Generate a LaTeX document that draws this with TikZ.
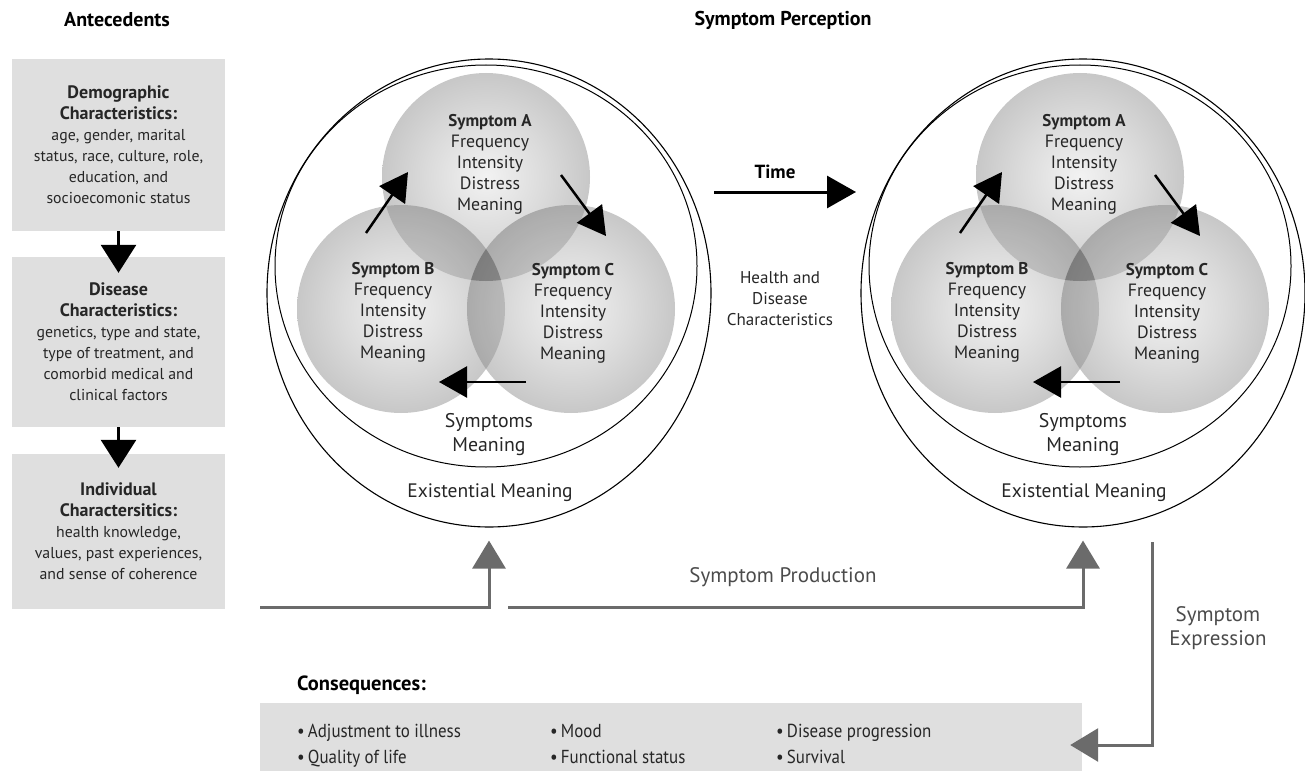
\documentclass[tikz,border=0pt]{standalone}
\usepackage{fontspec}
\setmainfont{PT Sans}
\newfontfamily\condfont[FakeStretch=0.9]{PT Sans}
\usetikzlibrary{arrows.meta,shapes.geometric}
\definecolor{boxgray}{gray}{0.875}
\definecolor{arrgray}{gray}{0.42}
\definecolor{txtgray}{gray}{0.15}
\definecolor{sphc}{gray}{0.95}
\definecolor{sphm}{gray}{0.86}
\definecolor{sphe}{gray}{0.69}
\definecolor{sphr}{gray}{0.61}
\pgfdeclareradialshading{sphereshade}{\pgfpoint{0bp}{0bp}}{color(0bp)=(sphc); color(14bp)=(sphm); color(38bp)=(sphe); color(50bp)=(sphr)}
\newcommand\fs[2]{\fontsize{#1}{#2}\selectfont}
\newcommand\bl[1]{{\bfseries\fontsize{18}{21}\selectfont #1}}
\newcommand\bs[1]{{\bfseries\fontsize{17}{21}\selectfont #1}}
\tikzset{
  antebox/.style={fill=boxgray, minimum width=213pt, inner sep=0pt, align=center, text=txtgray, font=\fs{15.8}{21}},
  boxarrow/.style={line width=3pt, -{Triangle[length=28pt,width=35pt]}},
  blackarrow/.style={line width=2.5pt, -{Triangle[length=28pt,width=31pt]}},
  grayarrow/.style={draw=arrgray, line width=3pt, -{Triangle[length=28pt,width=33pt]}, arrgray},
  sphere/.style={circle, minimum size=208pt, inner sep=0pt, shade, shading=sphereshade},
  lens/.style={black, opacity=0.14},
  sphtext/.style={align=center, text=txtgray, font=\fs{17.8}{21}},
  title/.style={font=\bfseries\fs{20}{22}},
  lbl/.style={align=center, text=txtgray, font=\fs{17}{21}},
  item/.style={anchor=base west, inner sep=0pt, text=txtgray, font=\condfont\fs{18.8}{20}}
}
\newcommand\SymGroup{%
  \node[draw, ellipse, line width=1.1pt, minimum width=444pt, minimum height=468pt, inner sep=0pt] (outer) at (489,293) {};
  \node[draw, ellipse, line width=1pt, minimum width=422pt, minimum height=402pt, inner sep=0pt] (inner) at (486,266) {};
  \node[sphere] (A) at (486,177) {};
  \node[sphere] (B) at (401,309) {};
  \node[sphere] (C) at (571,309) {};
  \begin{scope}
    \clip (486,177) circle[radius=104];
    \fill[lens] (401,309) circle[radius=104];
    \fill[lens] (571,309) circle[radius=104];
  \end{scope}
  \begin{scope}
    \clip (401,309) circle[radius=104];
    \fill[lens] (571,309) circle[radius=104];
  \end{scope}
  \node[sphtext] (At) at (490,164) {\bs{Symptom A}\\Frequency\\Intensity\\Distress\\Meaning};
  \node[sphtext] (Bt) at (393,312) {\bs{Symptom B}\\Frequency\\Intensity\\Distress\\Meaning};
  \node[sphtext] (Ct) at (573,313) {\bs{Symptom C}\\Frequency\\Intensity\\Distress\\Meaning};
  \coordinate (ba1) at (366,233); \coordinate (ba2) at (408,172);
  \coordinate (ac1) at (561,175); \coordinate (ac2) at (606,236);
  \coordinate (cb1) at (526,382); \coordinate (cb2) at (439,382);
  \draw[blackarrow] (ba1) -- (ba2);
  \draw[blackarrow] (ac1) -- (ac2);
  \draw[blackarrow] (cb1) -- (cb2);
  \node[lbl, font=\fs{19.8}{24}] (sm) at (489,435) {Symptoms\\Meaning};
  \node[lbl, font=\fs{19.5}{24}] (em) at (490,493) {Existential Meaning};
}
\begin{document}
\begin{tikzpicture}[x=1pt,y=-1pt]
\useasboundingbox (0,0) rectangle (1305,773);
% titles
\node[title] (ant) at (117,20) {Antecedents};
\node[title] (perc) at (783,20) {Symptom Perception};
% antecedent boxes
\node[antebox, minimum height=172pt] (b1) at (118.5,145) {\bl{Demographic}\\\bl{Characteristics:}\\age, gender, marital\\status, race, culture, role,\\education, and\\socioecomonic status};
\node[antebox, minimum height=170pt] (b2) at (118.5,342) {\bl{Disease}\\\bl{Characteristics:}\\genetics, type and state,\\type of treatment, and\\comorbid medical and\\clinical factors};
\node[antebox, minimum height=155pt] (b3) at (118.5,531.5) {\bl{Individual}\\\bl{Charactersitics:}\\health knowledge,\\values, past experiences,\\and sense of coherence};
\draw[boxarrow, shorten >=-16pt] (b1.south) -- (b2.north);
\draw[boxarrow, shorten >=-14pt] (b2.south) -- (b3.north);
% symptom groups
\begin{scope}[name prefix=L-]
  \SymGroup
\end{scope}
\begin{scope}[xshift=594pt, name prefix=R-]
  \SymGroup
\end{scope}
% time
\coordinate (tt) at (714,192); \coordinate (th) at (856,192);
\draw[line width=3pt, -{Triangle[length=29pt,width=32pt]}] (tt) -- (th);
\node[font=\bfseries\fs{19}{22}] (time) at (775,172) {Time};
\node[lbl] (hdc) at (780,299) {Health and\\Disease\\Characteristics};
% consequences
\node[fill=boxgray, minimum width=822pt, minimum height=68pt, inner sep=0pt] (cons) at (671,737) {};
\node[anchor=base west, inner sep=0pt, font=\bfseries\fs{20.5}{22}] (constitle) at (297,690) {Consequences:};
\node[item] (i1) at (297,737) {•\,Adjustment to illness};
\node[item] (i2) at (297,763) {•\,Quality of life};
\node[item] (i3) at (550,737) {•\,Mood};
\node[item] (i4) at (550,763) {•\,Functional status};
\node[item] (i5) at (776,737) {•\,Disease progression};
\node[item] (i6) at (776,763) {•\,Survival};
% production / expression
\coordinate (ps1) at (260,607);
\coordinate (ps2) at (508,607);
\coordinate (es) at (1152,542);
\draw[grayarrow, shorten >=13pt] (ps1) -| (L-outer.south);
\draw[grayarrow, shorten >=13pt] (ps2) -| (R-outer.south);
\draw[grayarrow, shorten >=-12pt] (es) |- ([yshift=-8pt]cons.east);
\node[lbl, text=arrgray!70!black, font=\fs{21}{24}] (sp) at (783,577) {Symptom Production};
\node[lbl, text=arrgray!70!black, font=\fs{21}{24}] (se) at (1218,628) {Symptom\\Expression};
\end{tikzpicture}
\end{document}
